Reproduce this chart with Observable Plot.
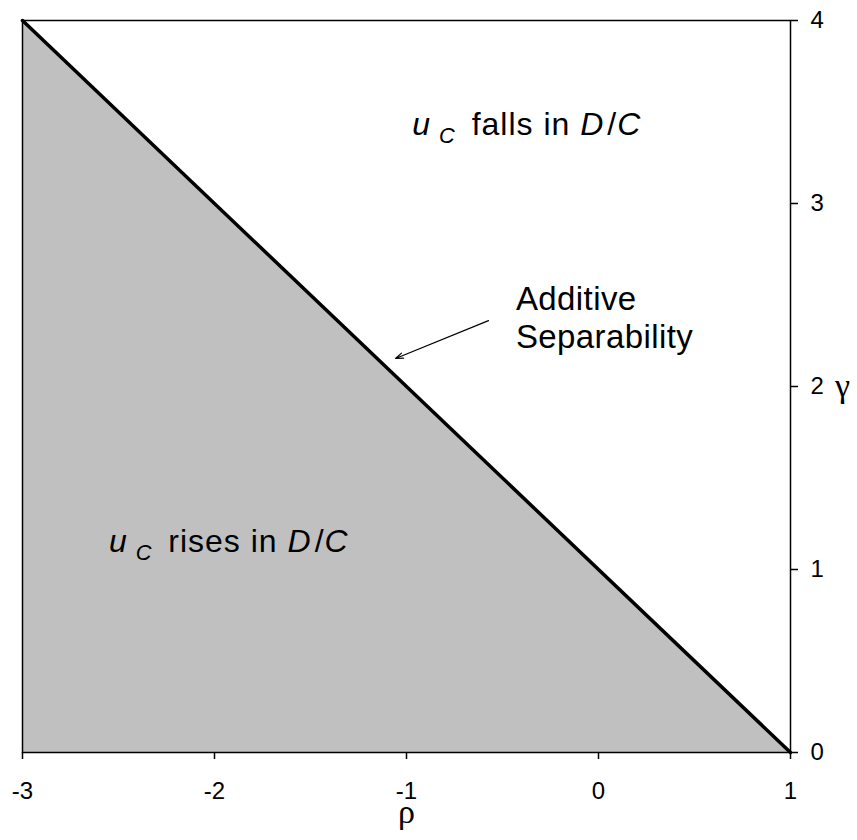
<!DOCTYPE html>
<html><head><meta charset="utf-8">
<script src="https://cdn.jsdelivr.net/npm/d3@7"></script>
<script src="https://cdn.jsdelivr.net/npm/@observablehq/plot@0.6"></script>
<style>body{margin:0;background:#fff;}</style>
</head><body><div id="chart"></div>
<script>
// Boundary of additive separability: gamma = 1 - rho
const boundaryRho = [-3, 1];
const boundaryGamma = [4, 0];
const xTicks = [-3, -2, -1, 0, 1];
const yTicks = [0, 1, 2, 3, 4];
const regionVerbs = ["falls", "rises"];
const regionRho = [-0.97, -2.55];
const regionGamma = [3.43, 1.15];
const noteText = ["Additive\nSeparability"];
const noteRho = [-0.43];
const noteGamma = [2.38];
const arrowFromRho = [-0.573], arrowFromGamma = [2.36];
const arrowToRho = [-1.057], arrowToGamma = [2.153];

const sans = "'Liberation Sans', Arial, Helvetica, sans-serif";
const serif = "'Liberation Serif', 'Times New Roman', serif";
const fmt = d => String(d);

const svg = Plot.plot({
  width: 857, height: 840,
  marginLeft: 22, marginRight: 67, marginTop: 20, marginBottom: 88,
  x: {domain: [-3, 1]},
  y: {domain: [0, 4]},
  style: {fontFamily: sans, fontSize: "24px", background: "#fff", color: "#000"},
  marks: [
    Plot.areaY(boundaryRho, {x: d => d, y: (d, i) => boundaryGamma[i], fill: "#c0c0c0"}),
    Plot.frame({stroke: "#000", strokeWidth: 1.5}),
    Plot.line(boundaryRho, {x: d => d, y: (d, i) => boundaryGamma[i], stroke: "#000", strokeWidth: 3.5}),
    Plot.axisX({ticks: xTicks, tickFormat: fmt, tickSize: 7, tickPadding: 22, label: null, strokeWidth: 1.5}),
    Plot.axisY({anchor: "right", ticks: yTicks, tickFormat: fmt, tickSize: 7, tickPadding: 13, label: null, strokeWidth: 1.5}),
    Plot.text(["ρ"], {frameAnchor: "bottom", dy: 70, fontSize: 34, fontFamily: serif}),
    Plot.text(["γ"], {frameAnchor: "right", textAnchor: "middle", dx: 52, dy: 0, fontSize: 34, fontFamily: serif}),
    Plot.text(regionVerbs, {x: (d, i) => regionRho[i], y: (d, i) => regionGamma[i], text: d => "uC " + d + " in D/C", textAnchor: "start", fontSize: 32}),
    Plot.text(noteText, {x: noteRho, y: noteGamma, text: d => d, textAnchor: "start", fontSize: 33, lineHeight: 1.15}),
    Plot.arrow([0], {x1: arrowFromRho, y1: arrowFromGamma, x2: arrowToRho, y2: arrowToGamma, stroke: "#000", strokeWidth: 1.2, headLength: 10, headAngle: 40})
  ]
});

d3.select(svg).selectAll("text").each(function() {
  const t = d3.select(this);
  const content = this.textContent;
  if (content.startsWith("Additive")) { t.attr("letter-spacing", "0.4px"); return; }
  const verb = regionVerbs.find(v => content === "uC " + v + " in D/C");
  if (!verb) return;
  t.text(null).attr("letter-spacing", "1px");
  t.append("tspan").attr("font-style", "italic").text("u");
  t.append("tspan").attr("font-style", "italic").attr("font-size", "0.68em").attr("dx", 8).attr("dy", 8).text("C");
  t.append("tspan").attr("dy", -8).attr("dx", 6).text(" " + verb + " in ");
  t.append("tspan").attr("font-style", "italic").text("D");
  t.append("tspan").attr("dx", 3).text("/");
  t.append("tspan").attr("font-style", "italic").text("C");
});

document.getElementById("chart").appendChild(svg);
</script>
</body></html>
